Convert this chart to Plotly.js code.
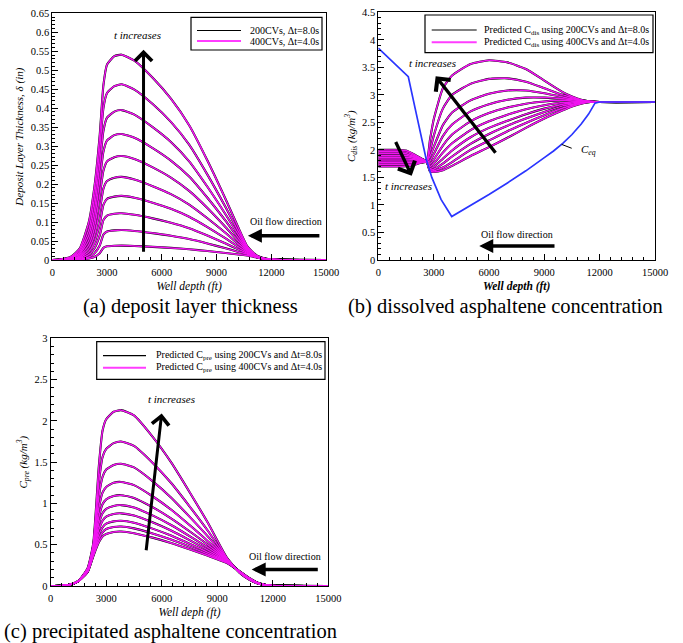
<!DOCTYPE html>
<html><head><meta charset="utf-8">
<script src="https://cdn.plot.ly/plotly-3.0.1.min.js"></script>
<style>html,body{margin:0;padding:0;background:#fff}#chart{width:683px;height:643px}</style>
</head><body><div id="chart"></div>
<script>
// ---------- (a) deposit layer thickness ----------
const depthA = [0, 500, 1000, 1500, 2000, 2300, 2600, 2800, 3000, 3400, 3800, 4500, 5500, 6500, 7500, 8500, 9500, 10200, 10700, 11200, 11700, 12500, 15000];
const delta1 = [0, 0, 0.0003, 0.001, 0.004, 0.008, 0.018, 0.032, 0.036, 0.0375, 0.038, 0.037, 0.0347, 0.0319, 0.0283, 0.0236, 0.0184, 0.0146, 0.012, 0.0065, 0.002, 0.0005, 0];
const delta2 = [0, 0, 0.0005, 0.002, 0.008, 0.017, 0.038, 0.067, 0.075, 0.078, 0.079, 0.0766, 0.0709, 0.064, 0.0552, 0.0435, 0.0307, 0.0213, 0.015, 0.007, 0.002, 0.0005, 0];
const delta3 = [0, 0, 0.001, 0.004, 0.014, 0.03, 0.065, 0.105, 0.117, 0.122, 0.123, 0.119, 0.1097, 0.0983, 0.0838, 0.0645, 0.0434, 0.0279, 0.0175, 0.0075, 0.002, 0.0005, 0];
const delta4 = [0, 0.0005, 0.0015, 0.006, 0.021, 0.045, 0.095, 0.145, 0.161, 0.167, 0.169, 0.164, 0.151, 0.135, 0.114, 0.0867, 0.0567, 0.0347, 0.020, 0.008, 0.0025, 0.0005, 0];
const delta5 = [0, 0.0005, 0.002, 0.008, 0.03, 0.063, 0.13, 0.188, 0.208, 0.217, 0.219, 0.212, 0.1945, 0.1735, 0.146, 0.110, 0.071, 0.042, 0.0225, 0.0085, 0.0025, 0.0005, 0];
const delta6 = [0, 0.001, 0.003, 0.011, 0.04, 0.083, 0.17, 0.235, 0.26, 0.271, 0.274, 0.266, 0.244, 0.217, 0.182, 0.137, 0.0865, 0.0496, 0.025, 0.009, 0.0025, 0.0005, 0];
const delta7 = [0, 0.001, 0.004, 0.015, 0.052, 0.105, 0.21, 0.285, 0.315, 0.329, 0.332, 0.322, 0.295, 0.262, 0.220, 0.164, 0.103, 0.0575, 0.0275, 0.0095, 0.003, 0.0005, 0];
const delta8 = [0, 0.001, 0.005, 0.019, 0.065, 0.13, 0.25, 0.34, 0.375, 0.391, 0.395, 0.383, 0.350, 0.311, 0.260, 0.193, 0.120, 0.066, 0.030, 0.010, 0.003, 0.0005, 0];
const delta9 = [0, 0.0015, 0.006, 0.024, 0.08, 0.16, 0.29, 0.40, 0.44, 0.458, 0.463, 0.449, 0.411, 0.364, 0.304, 0.225, 0.139, 0.075, 0.0325, 0.011, 0.003, 0.0005, 0];
const delta10 = [0, 0.002, 0.008, 0.03, 0.10, 0.19, 0.33, 0.46, 0.515, 0.537, 0.541, 0.525, 0.48, 0.425, 0.355, 0.262, 0.16, 0.085, 0.035, 0.012, 0.003, 0.0005, 0];

// ---------- (b) dissolved asphaltene concentration ----------
const depthB = [0, 500, 1000, 1500, 2000, 2300, 2624, 2800, 3000, 3500, 4000, 5000, 6000, 7000, 8000, 9000, 10000, 10500, 11000, 11500, 12000, 15000];
const cdis1 = [2.0, 2.0, 2.0, 1.99, 1.91, 1.85, 1.79, 1.61, 1.60, 1.63, 1.71, 1.89, 2.05, 2.22, 2.40, 2.57, 2.72, 2.79, 2.84, 2.87, 2.87, 2.87];
const cdis2 = [1.967, 1.967, 1.967, 1.96, 1.89, 1.84, 1.79, 1.62, 1.62, 1.68, 1.78, 2.0, 2.17, 2.34, 2.49, 2.63, 2.76, 2.81, 2.85, 2.87, 2.87, 2.87];
const cdis3 = [1.933, 1.933, 1.933, 1.93, 1.87, 1.83, 1.79, 1.64, 1.65, 1.75, 1.88, 2.11, 2.29, 2.44, 2.57, 2.69, 2.80, 2.83, 2.86, 2.87, 2.87, 2.87];
const cdis4 = [1.90, 1.90, 1.90, 1.90, 1.86, 1.82, 1.79, 1.66, 1.69, 1.84, 1.99, 2.23, 2.40, 2.53, 2.65, 2.75, 2.83, 2.85, 2.87, 2.87, 2.87, 2.87];
const cdis5 = [1.867, 1.867, 1.867, 1.865, 1.84, 1.81, 1.79, 1.70, 1.75, 1.95, 2.12, 2.36, 2.52, 2.64, 2.74, 2.81, 2.86, 2.87, 2.875, 2.87, 2.87, 2.87];
const cdis6 = [1.833, 1.833, 1.833, 1.833, 1.82, 1.80, 1.79, 1.74, 1.82, 2.08, 2.28, 2.52, 2.67, 2.77, 2.84, 2.88, 2.90, 2.89, 2.88, 2.87, 2.87, 2.87];
const cdis7 = [1.80, 1.80, 1.80, 1.80, 1.80, 1.795, 1.79, 1.80, 1.92, 2.25, 2.46, 2.70, 2.83, 2.91, 2.95, 2.95, 2.93, 2.91, 2.89, 2.88, 2.87, 2.87];
const cdis8 = [1.767, 1.767, 1.767, 1.767, 1.775, 1.783, 1.79, 1.88, 2.05, 2.45, 2.68, 2.90, 3.02, 3.08, 3.08, 3.03, 2.96, 2.93, 2.90, 2.88, 2.87, 2.87];
const cdis9 = [1.733, 1.733, 1.733, 1.735, 1.755, 1.775, 1.79, 1.98, 2.25, 2.75, 3.0, 3.20, 3.29, 3.30, 3.24, 3.12, 3.0, 2.95, 2.90, 2.88, 2.87, 2.87];
const cdis10 = [1.70, 1.70, 1.70, 1.703, 1.735, 1.765, 1.79, 2.18, 2.55, 3.12, 3.35, 3.56, 3.63, 3.59, 3.47, 3.26, 3.05, 2.97, 2.91, 2.88, 2.87, 2.87];
const ceqDepth = [0, 1626, 2000, 2300, 2585, 2900, 3400, 3979, 5000, 6000, 7000, 8000, 9000, 9500, 10000, 10500, 11000, 11400, 11747, 12000, 15000];
const ceqValue = [3.85, 3.33, 2.75, 2.27, 1.85, 1.50, 1.10, 0.79, 0.99, 1.19, 1.40, 1.62, 1.86, 1.98, 2.12, 2.28, 2.47, 2.65, 2.85, 2.87, 2.87];

// ---------- (c) precipitated asphaltene concentration ----------
const depthC = [0, 500, 1000, 1500, 2000, 2300, 2600, 2800, 3000, 3400, 3800, 4500, 5500, 6500, 7500, 8500, 9500, 10200, 10700, 11200, 11700, 12500, 15000];
const cpre1 = [0, 0.003, 0.015, 0.06, 0.17, 0.36, 0.53, 0.60, 0.63, 0.655, 0.66, 0.64, 0.586, 0.521, 0.446, 0.366, 0.28, 0.18, 0.10, 0.04, 0.01, 0.001, 0];
const cpre2 = [0, 0.003, 0.015, 0.06, 0.17, 0.37, 0.57, 0.65, 0.69, 0.714, 0.72, 0.698, 0.637, 0.563, 0.477, 0.386, 0.288, 0.178, 0.098, 0.038, 0.01, 0.001, 0];
const cpre3 = [0, 0.003, 0.015, 0.06, 0.18, 0.39, 0.62, 0.71, 0.755, 0.783, 0.79, 0.766, 0.695, 0.611, 0.512, 0.408, 0.295, 0.176, 0.096, 0.036, 0.01, 0.001, 0];
const cpre4 = [0, 0.003, 0.015, 0.06, 0.18, 0.40, 0.68, 0.79, 0.84, 0.872, 0.88, 0.854, 0.771, 0.672, 0.556, 0.435, 0.303, 0.174, 0.094, 0.035, 0.01, 0.001, 0];
const cpre5 = [0, 0.003, 0.015, 0.06, 0.19, 0.42, 0.75, 0.88, 0.935, 0.97, 0.98, 0.951, 0.855, 0.739, 0.605, 0.464, 0.31, 0.172, 0.092, 0.034, 0.01, 0.001, 0];
const cpre6 = [0, 0.003, 0.015, 0.06, 0.19, 0.43, 0.83, 0.99, 1.05, 1.09, 1.10, 1.067, 0.955, 0.820, 0.663, 0.498, 0.318, 0.170, 0.09, 0.033, 0.009, 0.001, 0];
const cpre7 = [0, 0.003, 0.015, 0.06, 0.20, 0.45, 0.94, 1.13, 1.20, 1.25, 1.26, 1.222, 1.087, 0.926, 0.738, 0.540, 0.325, 0.168, 0.088, 0.032, 0.009, 0.001, 0];
const cpre8 = [0, 0.003, 0.015, 0.06, 0.20, 0.47, 1.08, 1.32, 1.41, 1.465, 1.48, 1.436, 1.271, 1.072, 0.840, 0.598, 0.333, 0.166, 0.086, 0.031, 0.009, 0.001, 0];
const cpre9 = [0, 0.003, 0.015, 0.06, 0.21, 0.49, 1.25, 1.56, 1.66, 1.73, 1.75, 1.698, 1.494, 1.250, 0.965, 0.666, 0.34, 0.164, 0.084, 0.03, 0.008, 0.001, 0];
const cpre10 = [0, 0.003, 0.015, 0.06, 0.22, 0.52, 1.45, 1.88, 2.02, 2.11, 2.13, 2.066, 1.809, 1.500, 1.139, 0.762, 0.35, 0.162, 0.082, 0.029, 0.008, 0.001, 0];

// ---------- tick labels ----------
const depthTicks = [0, 3000, 6000, 9000, 12000, 15000];
const depthTickText = ['0', '3000', '6000', '9000', '12000', '15000'];

// ---------- drawing ----------
const W = 683, H = 643;
const px = x => x / W;
const py = y => 1 - y / H;
const serif = 'Liberation Serif, serif';
const MAG = '#f014f0';

const traces = [];
function addCurves(xs, list, xa, ya) {
  list.forEach(arr => traces.push({x: xs, y: arr, xaxis: xa, yaxis: ya, mode: 'lines',
    line: {color: '#000', width: 2.1, shape: 'spline', smoothing: 0.5}, hoverinfo: 'skip', showlegend: false}));
  list.forEach(arr => traces.push({x: xs, y: arr, xaxis: xa, yaxis: ya, mode: 'lines',
    line: {color: MAG, width: 1.5, shape: 'spline', smoothing: 0.5}, hoverinfo: 'skip', showlegend: false}));
}
addCurves(depthA, [delta1, delta2, delta3, delta4, delta5, delta6, delta7, delta8, delta9, delta10], 'x', 'y');
addCurves(depthB, [cdis1, cdis2, cdis3, cdis4, cdis5, cdis6, cdis7, cdis8, cdis9, cdis10], 'x2', 'y2');
traces.push({x: ceqDepth, y: ceqValue, xaxis: 'x2', yaxis: 'y2', mode: 'lines',
  line: {color: '#2a35ff', width: 1.7}, hoverinfo: 'skip', showlegend: false});
addCurves(depthC, [cpre1, cpre2, cpre3, cpre4, cpre5, cpre6, cpre7, cpre8, cpre9, cpre10], 'x3', 'y3');

function xAxis(domain, anchor, title) {
  return {domain: domain, anchor: anchor, range: [0, 15000], tickmode: 'array', tickvals: depthTicks, ticktext: depthTickText,
    ticks: 'inside', ticklen: 6, tickwidth: 1, tickcolor: '#000', ticklabelstandoff: 2,
    minor: {dtick: 600, tick0: 0, ticks: 'inside', ticklen: 3, tickwidth: 1, tickcolor: '#000', showgrid: false},
    showline: true, linecolor: '#000', linewidth: 1, mirror: true, showgrid: false, zeroline: false,
    tickfont: {family: serif, size: 10.5, color: '#000'},
    title: {text: title, font: {family: serif, size: 11.5, color: '#000'}, standoff: 5}, fixedrange: true};
}
function yAxis(domain, anchor, range, dtick, minor, title) {
  return {domain: domain, anchor: anchor, range: range, dtick: dtick, tick0: 0,
    ticks: 'inside', ticklen: 6, tickwidth: 1, tickcolor: '#000',
    minor: {dtick: minor, tick0: 0, ticks: 'inside', ticklen: 3, tickwidth: 1, tickcolor: '#000', showgrid: false},
    showline: true, linecolor: '#000', linewidth: 1, mirror: true, showgrid: false, zeroline: false,
    tickfont: {family: serif, size: 10.5, color: '#000'},
    title: {text: title, font: {family: serif, size: 11, color: '#000'}, standoff: 4}, fixedrange: true};
}

function txt(xref, yref, x, y, text, size, anchor) {
  return {xref: xref, yref: yref, x: x, y: y, text: text, showarrow: false,
    xanchor: anchor || 'center', yanchor: 'middle', font: {family: serif, size: size || 11, color: '#000'}};
}
function arrow(xref, yref, x, y, ax, ay, head, width, size) {
  return {xref: xref, yref: yref, axref: xref, ayref: yref, x: x, y: y, ax: ax, ay: ay, text: '',
    showarrow: true, arrowhead: head, arrowwidth: width, arrowsize: size, arrowcolor: '#000', standoff: 0, startstandoff: 0};
}

const annotations = [
  // (a)
  txt('x', 'y', 4696, 0.592, '<i>t increases</i>', 11),
  arrow('x', 'y', 5000, 0.554, 5000, 0.018, 4, 3, 1.1),
  txt('x', 'y', 12789, 0.101, 'Oil flow direction', 10),
  arrow('x', 'y', 10720, 0.064, 14720, 0.064, 2, 3.5, 0.8),
  // (b)
  txt('x2', 'y2', 2950, 3.57, '<i>t increases</i>', 11),
  arrow('x2', 'y2', 3110, 3.34, 6418, 1.92, 4, 3.3, 1.1),
  txt('x2', 'y2', 1626, 1.35, '<i>t increases</i>', 11),
  arrow('x2', 'y2', 1811, 1.53, 905, 2.17, 4, 3.3, 1.1),
  txt('x2', 'y2', 7503, 0.47, 'Oil flow direction', 10),
  arrow('x2', 'y2', 5474, 0.254, 9633, 0.254, 2, 3.5, 0.8),
  txt('x2', 'y2', 10900, 1.99, '<i>C<sub>eq</sub></i>', 11, 'left'),
  // (c)
  txt('x3', 'y3', 6538, 2.27, '<i>t increases</i>', 11),
  arrow('x3', 'y3', 5998, 2.09, 5150, 0.415, 4, 3, 1.1),
  txt('x3', 'y3', 12660, 0.355, 'Oil flow direction', 10),
  arrow('x3', 'y3', 10861, 0.20, 14513, 0.20, 2, 3.5, 0.8),
  // legends (text)
  txt('paper', 'paper', px(248), py(30.5), '200CVs, Δt=8.0s', 10, 'left'),
  txt('paper', 'paper', px(248), py(41), '400CVs, Δt=4.0s', 10, 'left'),
  txt('paper', 'paper', px(481.7), py(30), 'Predicted C<sub>dis</sub> using 200CVs and Δt=8.0s', 10, 'left'),
  txt('paper', 'paper', px(481.7), py(42.3), 'Predicted C<sub>dis</sub> using 400CVs and Δt=4.0s', 10, 'left'),
  txt('paper', 'paper', px(154.3), py(355.7), 'Predicted C<sub>pre</sub> using 200CVs and Δt=8.0s', 10, 'left'),
  txt('paper', 'paper', px(154.3), py(367.7), 'Predicted C<sub>pre</sub> using 400CVs and Δt=4.0s', 10, 'left'),
  // captions
  txt('paper', 'paper', px(190), py(306), '(a) deposit layer thickness', 20.5),
  txt('paper', 'paper', px(505.5), py(306), '(b) dissolved asphaltene concentration', 20.5),
  txt('paper', 'paper', px(2), py(631), '(c) precipitated asphaltene concentration', 20.5, 'left')
];

function pline(x0, y0, x1, y1, color, width) {
  return {type: 'line', xref: 'paper', yref: 'paper', x0: px(x0), y0: py(y0), x1: px(x1), y1: py(y1), line: {color: color, width: width}};
}
function prect(x0, y0, x1, y1) {
  return {type: 'rect', xref: 'paper', yref: 'paper', x0: px(x0), y0: py(y1), x1: px(x1), y1: py(y0), line: {color: '#000', width: 1.2}, fillcolor: 'rgba(0,0,0,0)'};
}
const shapes = [
  prect(191, 17.3, 322, 50), pline(197, 30.5, 241, 30.5, '#000', 1.2), pline(197, 41, 241, 41, '#ff3cff', 2),
  prect(425, 15, 653, 52.7), pline(431.7, 30, 476.7, 30, '#000', 1.2), pline(431.7, 42.3, 476.7, 42.3, '#ff3cff', 2),
  prect(96.7, 341.7, 325, 379.3), pline(103, 355.7, 146, 355.7, '#000', 1.2), pline(103, 367.7, 146, 367.7, '#ff3cff', 2),
  {type: 'line', xref: 'x2', yref: 'y2', x0: 9941, y0: 2.10, x1: 10484, y1: 2.03, line: {color: '#000', width: 1}}
];

const layout = {
  width: W, height: H, margin: {l: 0, r: 0, t: 0, b: 0}, paper_bgcolor: '#fff', plot_bgcolor: '#fff', showlegend: false,
  font: {family: serif, color: '#000'},
  xaxis: xAxis([px(52.3), px(326)], 'y', '<i>Well depth (ft)</i>'),
  yaxis: yAxis([py(260), py(13.3)], 'x', [0, 0.65], 0.05, 0.01, '<i>Deposit Layer Thickness, δ (in)</i>'),
  xaxis2: xAxis([px(378.3), px(655)], 'y2', '<b><i>Well depth (ft)</i></b>'),
  yaxis2: yAxis([py(260), py(12.3)], 'x2', [0, 4.5], 0.5, 0.1, '<i>C<sub>dis</sub> (kg/m<sup>3</sup>)</i>'),
  xaxis3: xAxis([px(50.7), px(328.3)], 'y3', '<i>Well deph (ft)</i>'),
  yaxis3: yAxis([py(586), py(338.3)], 'x3', [0, 3], 0.5, 0.1, '<i>C<sub>pre</sub> (kg/m<sup>3</sup>)</i>'),
  annotations: annotations, shapes: shapes
};

Plotly.newPlot('chart', traces, layout, {displayModeBar: false, staticPlot: true});
</script></body></html>
